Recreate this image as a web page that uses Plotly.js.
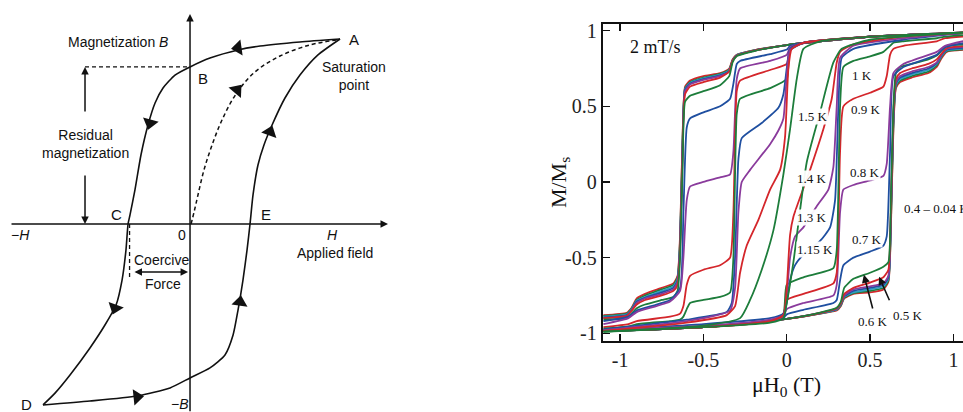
<!DOCTYPE html>
<html><head><meta charset="utf-8">
<script src="https://cdn.plot.ly/plotly-3.0.1.min.js"></script>
<style>html,body{margin:0;padding:0;background:#fff;overflow:hidden}#c{width:963px;height:412px}</style>
</head><body><div id="c"></div>
<script>
// ---------- Left panel: schematic loop (H, B in normalised units) ----------
const loopDescH = [1.0,0.733,0.467,0.32,0.133,0,-0.1,-0.18,-0.233,-0.28,-0.327,-0.367,-0.4,-0.413,-0.427,-0.453,-0.493,-0.567,-0.667,-0.8,-0.9,-0.98];
const loopDescB = [1.0,0.984,0.962,0.941,0.897,0.849,0.805,0.735,0.654,0.535,0.373,0.184,0.049,0,-0.141,-0.303,-0.438,-0.546,-0.670,-0.816,-0.914,-0.978];
const loopAscH = [-0.98,-0.667,-0.353,-0.133,0,0.133,0.233,0.287,0.32,0.353,0.38,0.4,0.42,0.453,0.493,0.547,0.633,0.733,0.853,1.0];
const loopAscB = [-0.978,-0.957,-0.930,-0.886,-0.832,-0.778,-0.708,-0.6,-0.465,-0.303,-0.141,0,0.157,0.319,0.427,0.535,0.681,0.805,0.914,1.0];
const initH = [0.007,0.027,0.053,0.093,0.147,0.213,0.307,0.433,0.6,0.8,0.98];
const initB = [0,0.065,0.157,0.292,0.427,0.562,0.703,0.822,0.908,0.968,0.995];
const arrowH = [0.32,-0.267,-0.5,-0.353,0.333,0.533,0.313];
const arrowB = [0.952,0.546,-0.454,-0.935,-0.422,0.497,0.724];
const arrowDir = [262,195,200,84,8,20,40];
const remanenceB = 0.849;   // point B
const coerciveH = -0.413;   // point C

// ---------- Right panel: M/Ms vs field (T) ----------
const tempLabels = ['0.04 K','0.1 K','0.2 K','0.3 K','0.4 K','0.5 K','0.6 K','0.7 K','0.8 K','0.9 K','1 K','1.15 K','1.3 K','1.4 K','1.5 K'];
// low temperature grid (0.04 - 0.6 K)
const gLowDesc = [1.1,0.8,0.5,0.2,0.0,-0.2,-0.3,-0.325,-0.345,-0.4,-0.5,-0.58,-0.61,-0.625,-0.64,-0.655,-0.68,-0.75,-0.85,-0.9,-0.93,-0.96,-1.1];
const gLowAsc  = [-1.1,-0.8,-0.5,-0.2,0.0,0.2,0.3,0.325,0.345,0.4,0.5,0.58,0.61,0.625,0.64,0.655,0.68,0.75,0.85,0.9,0.93,0.96,1.1];
const d004 = [0.985,0.975,0.96,0.93,0.905,0.87,0.84,0.81,0.75,0.72,0.70,0.67,0.63,0.3,-0.35,-0.62,-0.67,-0.70,-0.74,-0.77,-0.83,-0.865,-0.88];
const a004 = [-0.985,-0.975,-0.96,-0.93,-0.905,-0.87,-0.85,-0.82,-0.77,-0.74,-0.73,-0.71,-0.66,-0.3,0.35,0.62,0.66,0.69,0.72,0.76,0.82,0.86,0.875];
const d01 = [0.985,0.975,0.96,0.93,0.905,0.87,0.84,0.805,0.745,0.715,0.69,0.66,0.62,0.28,-0.38,-0.63,-0.68,-0.71,-0.75,-0.78,-0.835,-0.87,-0.885];
const a01 = [-0.985,-0.975,-0.96,-0.93,-0.905,-0.87,-0.845,-0.815,-0.765,-0.735,-0.72,-0.70,-0.65,-0.28,0.38,0.63,0.67,0.70,0.73,0.77,0.83,0.865,0.88];
const d02 = [0.985,0.975,0.96,0.93,0.905,0.868,0.838,0.80,0.74,0.71,0.685,0.655,0.615,0.25,-0.40,-0.64,-0.69,-0.72,-0.76,-0.785,-0.84,-0.875,-0.89];
const a02 = [-0.985,-0.975,-0.96,-0.93,-0.905,-0.868,-0.842,-0.81,-0.76,-0.73,-0.71,-0.69,-0.64,-0.25,0.40,0.64,0.68,0.71,0.74,0.78,0.835,0.87,0.885];
const d03 = [0.985,0.975,0.96,0.93,0.905,0.867,0.837,0.80,0.735,0.705,0.68,0.65,0.61,0.22,-0.42,-0.65,-0.70,-0.73,-0.765,-0.79,-0.845,-0.88,-0.895];
const a03 = [-0.985,-0.975,-0.96,-0.93,-0.905,-0.867,-0.84,-0.805,-0.755,-0.72,-0.70,-0.68,-0.63,-0.22,0.42,0.65,0.69,0.72,0.75,0.785,0.84,0.875,0.89];
const d04 = [0.985,0.975,0.96,0.93,0.905,0.866,0.836,0.80,0.73,0.70,0.675,0.645,0.60,0.2,-0.44,-0.66,-0.71,-0.74,-0.77,-0.80,-0.85,-0.885,-0.9];
const a04 = [-0.985,-0.975,-0.96,-0.93,-0.905,-0.866,-0.838,-0.80,-0.75,-0.71,-0.69,-0.67,-0.62,-0.2,0.44,0.66,0.70,0.73,0.76,0.79,0.845,0.88,0.895];
const d05 = [0.985,0.975,0.96,0.93,0.905,0.866,0.835,0.80,0.73,0.69,0.66,0.63,0.58,0.2,-0.45,-0.68,-0.72,-0.75,-0.78,-0.81,-0.85,-0.885,-0.9];
const a05 = [-0.985,-0.975,-0.96,-0.93,-0.905,-0.866,-0.835,-0.80,-0.74,-0.70,-0.665,-0.63,-0.58,-0.2,0.45,0.68,0.72,0.75,0.78,0.81,0.85,0.885,0.9];
const d06 = [0.985,0.975,0.96,0.93,0.905,0.864,0.832,0.79,0.70,0.64,0.60,0.57,0.53,0.1,-0.5,-0.72,-0.76,-0.78,-0.81,-0.835,-0.87,-0.9,-0.91];
const a06 = [-0.985,-0.975,-0.96,-0.93,-0.905,-0.864,-0.832,-0.79,-0.70,-0.64,-0.60,-0.56,-0.53,-0.1,0.5,0.72,0.76,0.78,0.81,0.835,0.87,0.9,0.91];
// middle temperature grid (0.7 - 1 K)
const gMidDesc = [1.1,0.5,0.1,0.02,0.0,-0.1,-0.28,-0.3,-0.32,-0.34,-0.4,-0.5,-0.58,-0.6,-0.62,-0.64,-0.7,-0.9,-0.95,-1.1];
const gMidAsc  = [-1.1,-0.5,-0.1,-0.02,0.0,0.1,0.28,0.3,0.32,0.34,0.4,0.5,0.58,0.6,0.62,0.64,0.7,0.9,0.95,1.1];
const d07 = [0.985,0.96,0.92,0.9,0.875,0.845,0.8,0.78,0.65,0.55,0.5,0.46,0.42,0.36,-0.2,-0.7,-0.78,-0.85,-0.89,-0.92];
const a07 = [-0.985,-0.96,-0.92,-0.9,-0.875,-0.845,-0.8,-0.78,-0.65,-0.55,-0.5,-0.46,-0.42,-0.36,0.2,0.7,0.76,0.84,0.89,0.925];
const d08 = [0.985,0.96,0.92,0.89,0.84,0.8,0.75,0.68,0.2,0.05,0.03,0.0,-0.03,-0.12,-0.5,-0.72,-0.79,-0.86,-0.9,-0.94];
const a08 = [-0.985,-0.96,-0.92,-0.89,-0.84,-0.8,-0.75,-0.68,-0.2,-0.05,-0.02,0.01,0.04,0.12,0.5,0.72,0.78,0.86,0.9,0.94];
const d09 = [0.985,0.96,0.92,0.88,0.78,0.74,0.67,0.6,-0.2,-0.5,-0.55,-0.58,-0.62,-0.68,-0.82,-0.87,-0.89,-0.92,-0.94,-0.96];
const a09 = [-0.985,-0.96,-0.92,-0.88,-0.78,-0.74,-0.67,-0.6,0.2,0.5,0.55,0.59,0.63,0.7,0.84,0.88,0.9,0.93,0.95,0.965];
const d10 = [0.985,0.96,0.92,0.87,0.68,0.62,0.55,0.45,-0.5,-0.73,-0.76,-0.78,-0.8,-0.84,-0.89,-0.91,-0.92,-0.94,-0.955,-0.97];
const a10 = [-0.985,-0.96,-0.92,-0.87,-0.68,-0.63,-0.57,-0.45,0.5,0.76,0.8,0.83,0.86,0.88,0.9,0.92,0.93,0.95,0.96,0.975];
// high temperatures (own field samples)
const h115dH = [1.1,0.5,0.1,0.02,0.0,-0.02,-0.05,-0.15,-0.27,-0.29,-0.31,-0.33,-0.36,-0.6,-1.1];
const h115dM = [0.99,0.96,0.92,0.88,0.75,0.58,0.49,0.39,0.29,0.15,-0.5,-0.8,-0.86,-0.91,-0.975];
const h115aH = [-1.1,-0.5,-0.1,-0.02,0.0,0.02,0.05,0.1,0.2,0.26,0.29,0.31,0.33,0.4,0.7,1.1];
const h115aM = [-0.98,-0.94,-0.9,-0.87,-0.8,-0.65,-0.55,-0.48,-0.39,-0.3,-0.12,0.5,0.82,0.88,0.94,0.99];
const h13dH = [1.1,0.5,0.1,0.02,0.0,-0.02,-0.05,-0.1,-0.22,-0.27,-0.29,-0.31,-0.34,-0.6,-1.1];
const h13dM = [0.99,0.96,0.92,0.87,0.7,0.42,0.34,0.25,0.08,0.0,-0.2,-0.7,-0.85,-0.92,-0.98];
const h13aH = [-1.1,-0.5,-0.1,-0.02,0.0,0.02,0.05,0.1,0.18,0.25,0.28,0.3,0.32,0.4,0.7,1.1];
const h13aM = [-0.98,-0.95,-0.91,-0.88,-0.75,-0.5,-0.36,-0.3,-0.16,-0.05,0.1,0.5,0.82,0.9,0.95,0.99];
const h14dH = [1.1,0.5,0.1,0.03,0.01,-0.01,-0.04,-0.1,-0.17,-0.24,-0.28,-0.31,-0.36,-0.6,-1.1];
const h14dM = [0.99,0.96,0.92,0.88,0.75,0.3,0.08,-0.05,-0.25,-0.42,-0.6,-0.82,-0.88,-0.93,-0.985];
const h14aH = [-1.1,-0.5,-0.1,-0.02,0.0,0.02,0.04,0.14,0.22,0.27,0.3,0.32,0.4,0.7,1.1];
const h14aM = [-0.985,-0.96,-0.92,-0.88,-0.7,-0.35,-0.23,0.08,0.35,0.55,0.79,0.86,0.91,0.96,0.99];
const h15dH = [1.1,0.5,0.2,0.1,0.06,0.02,-0.02,-0.08,-0.15,-0.22,-0.28,-0.5,-1.1];
const h15dM = [0.99,0.96,0.93,0.88,0.68,0.35,0.05,-0.32,-0.58,-0.78,-0.9,-0.95,-0.99];
const h15aH = [-1.1,-0.5,-0.1,-0.02,0.0,0.04,0.12,0.2,0.28,0.33,0.5,1.1];
const h15aM = [-0.99,-0.96,-0.93,-0.9,-0.8,-0.53,0.13,0.46,0.79,0.88,0.94,0.99];

const RED='#d4262b', GREEN='#1d7d3b', BLUE='#1f4fa0', PURPLE='#8a3b9c', CYAN='#2e9fc0';
const curveColors = [RED, GREEN, CYAN, BLUE, PURPLE, RED, GREEN, BLUE, PURPLE, RED, GREEN, BLUE, PURPLE, RED, GREEN];
const branches = [
  [gLowDesc,d004,gLowAsc,a004],[gLowDesc,d01,gLowAsc,a01],[gLowDesc,d02,gLowAsc,a02],
  [gLowDesc,d03,gLowAsc,a03],[gLowDesc,d04,gLowAsc,a04],[gLowDesc,d05,gLowAsc,a05],
  [gLowDesc,d06,gLowAsc,a06],[gMidDesc,d07,gMidAsc,a07],[gMidDesc,d08,gMidAsc,a08],
  [gMidDesc,d09,gMidAsc,a09],[gMidDesc,d10,gMidAsc,a10],[h115dH,h115dM,h115aH,h115aM],
  [h13dH,h13dM,h13aH,h13aM],[h14dH,h14dM,h14aH,h14aM],[h15dH,h15dM,h15aH,h15aM]
];

const traces = [];
branches.forEach((b,i)=>{
  [[b[0],b[1]],[b[2],b[3]]].forEach(([xs,ys])=>{
    traces.push({x:xs,y:ys,type:'scatter',mode:'lines',name:tempLabels[i],
      line:{color:curveColors[i],width:1.8,shape:'spline',smoothing:0.5},
      xaxis:'x',yaxis:'y',hoverinfo:'skip'});
  });
});

// left schematic traces
const blackLine = {color:'#111',width:1.6,shape:'spline',smoothing:0.6};
traces.push({x:loopDescH,y:loopDescB,type:'scatter',mode:'lines',line:blackLine,xaxis:'x2',yaxis:'y2',hoverinfo:'skip'});
traces.push({x:loopAscH,y:loopAscB,type:'scatter',mode:'lines',line:blackLine,xaxis:'x2',yaxis:'y2',hoverinfo:'skip'});
traces.push({x:initH,y:initB,type:'scatter',mode:'lines',line:{color:'#111',width:1.5,dash:'4px,3px',shape:'spline'},xaxis:'x2',yaxis:'y2',hoverinfo:'skip'});
traces.push({x:[-0.7,0],y:[remanenceB,remanenceB],type:'scatter',mode:'lines',line:{color:'#111',width:1.3,dash:'4px,3px'},xaxis:'x2',yaxis:'y2',hoverinfo:'skip'});
traces.push({x:[coerciveH+0.01,coerciveH+0.01],y:[0,-0.292],type:'scatter',mode:'lines',line:{color:'#111',width:1.3,dash:'4px,3px'},xaxis:'x2',yaxis:'y2',hoverinfo:'skip'});
traces.push({x:arrowH,y:arrowB,type:'scatter',mode:'markers',marker:{symbol:'triangle-up',size:14,color:'#111',angle:arrowDir,line:{width:0}},xaxis:'x2',yaxis:'y2',hoverinfo:'skip'});

const sans = {family:'Liberation Sans, Arial, sans-serif',size:14,color:'#111'};
const serif = 'Liberation Serif, Times New Roman, serif';
function lt(x,y,text,extra){return Object.assign({x:x,y:y,xref:'x2',yref:'y2',text:text,showarrow:false,font:sans},extra||{});}
function arr(x,y,ax,ay,extra){return Object.assign({x:x,y:y,ax:ax,ay:ay,xref:'x2',yref:'y2',axref:'x2',ayref:'y2',text:'',showarrow:true,arrowhead:2,arrowsize:1,arrowwidth:1.5,arrowcolor:'#111'},extra||{});}
function rl(x,y,text,extra){return Object.assign({x:x,y:y,xref:'x',yref:'y',text:text,showarrow:false,bgcolor:'rgba(255,255,255,0.95)',borderpad:0,font:{family:serif,size:13,color:'#111'}},extra||{});}

const annotations = [
  // left panel axes and guides
  arr(1.32,0,-1.2,0), arr(0,1.135,0,-1.02),
  arr(-0.7,remanenceB,-0.7,0.6), arr(-0.7,0,-0.7,0.27),
  arr(-0.013,-0.259,-0.38,-0.259,{arrowside:'end+start',startarrowhead:2}),
  lt(-0.48,0.984,'Magnetization <i>B</i>'),
  lt(1.09,0.995,'A',{font:Object.assign({},sans,{size:15})}),
  lt(0.087,0.789,'B',{font:Object.assign({},sans,{size:15})}),
  lt(1.09,0.80,'Saturation<br>point'),
  lt(-0.7,0.432,'Residual<br>magnetization'),
  lt(-0.487,0.054,'C',{font:Object.assign({},sans,{size:15})}),
  lt(0.507,0.054,'E',{font:Object.assign({},sans,{size:15})}),
  lt(-1.133,-0.059,'−<i>H</i>'),
  lt(-0.053,-0.059,'0'),
  lt(0.953,-0.059,'<i>H</i>'),
  lt(0.967,-0.157,'Applied field'),
  lt(-0.19,-0.195,'Coercive'),
  lt(-0.18,-0.322,'Force'),
  lt(-1.087,-0.978,'D',{font:Object.assign({},sans,{size:15})}),
  lt(-0.067,-0.975,'−<i>B</i>'),
  // right panel
  {x:-0.79,y:0.889,xref:'x',yref:'y',text:'2 mT/s',showarrow:false,font:{family:serif,size:18,color:'#111'}},
  rl(0.452,0.704,'1 K'), rl(0.476,0.479,'0.9 K'), rl(0.158,0.432,'1.5 K'),
  rl(0.152,0.022,'1.4 K'), rl(0.47,0.062,'0.8 K'), rl(0.152,-0.236,'1.3 K'),
  rl(0.482,-0.382,'0.7 K'), rl(0.17,-0.448,'1.15 K'),
  rl(0.698,-0.177,'0.4 – 0.04 K',{xanchor:'left'}),
  rl(0.518,-0.925,'0.6 K'), rl(0.728,-0.885,'0.5 K'),
  {x:0.463,y:-0.614,ax:0.518,ay:-0.846,xref:'x',yref:'y',axref:'x',ayref:'y',text:'',showarrow:true,arrowhead:2,arrowsize:1,arrowwidth:1.6,arrowcolor:'#111'},
  {x:0.554,y:-0.627,ax:0.62,ay:-0.792,xref:'x',yref:'y',axref:'x',ayref:'y',text:'',showarrow:true,arrowhead:2,arrowsize:1,arrowwidth:1.6,arrowcolor:'#111'},
  {x:0.5815,y:0.558,xref:'paper',yref:'paper',xanchor:'center',yanchor:'middle',text:'M/M<sub>s</sub>',textangle:-90,showarrow:false,font:{family:serif,size:22,color:'#111'}},
  {x:0.817,y:0.062,xref:'paper',yref:'paper',xanchor:'center',yanchor:'middle',text:'μH<sub>0</sub> (T)',showarrow:false,font:{family:serif,size:22,color:'#111'}}
];

const tickVals = [-1,-0.5,0,0.5,1];
const tickText = ['-1','-0.5','0','0.5','1'];

const layout = {
  width:963,height:412,margin:{l:0,r:0,t:0,b:0},
  paper_bgcolor:'#fff',plot_bgcolor:'rgba(0,0,0,0)',showlegend:false,
  xaxis:{domain:[0.6259,1],range:[-1.104,1.0576],tickvals:tickVals,ticktext:tickText,
    ticks:'inside',ticklen:7,tickwidth:1.5,tickcolor:'#111',showline:true,linewidth:2,linecolor:'#111',
    mirror:'ticks',showgrid:false,zeroline:false,tickfont:{family:serif,size:20,color:'#222'},fixedrange:true},
  yaxis:{domain:[0.1731,0.9417],range:[-1.049,1.044],tickvals:tickVals,ticktext:tickText,
    ticks:'inside',ticklen:7,tickwidth:1.5,tickcolor:'#111',showline:true,linewidth:2,linecolor:'#111',
    showgrid:false,zeroline:false,tickfont:{family:serif,size:20,color:'#222'},fixedrange:true},
  xaxis2:{domain:[0,0.4154],range:[-1.2667,1.4],visible:false,fixedrange:true},
  yaxis2:{domain:[0,1],range:[-1.0162,1.2108],visible:false,fixedrange:true},
  annotations:annotations
};
Plotly.newPlot('c',traces,layout,{staticPlot:true,displayModeBar:false});
</script></body></html>
